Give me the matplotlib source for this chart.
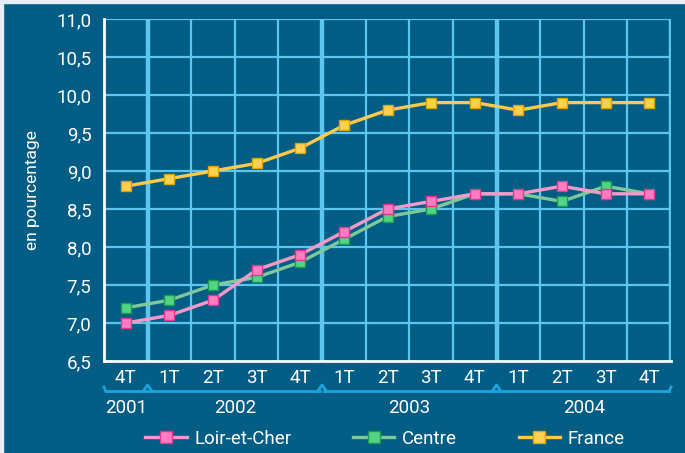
import numpy as np
import matplotlib.pyplot as plt
from matplotlib.lines import Line2D

plt.rcParams["font.family"] = ["Roboto", "DejaVu Sans"]

quarters = ["4T", "1T", "2T", "3T", "4T", "1T", "2T", "3T", "4T", "1T", "2T", "3T", "4T"]
years = ["2001", "2002", "2003", "2004"]
year_spans = [(0, 0), (1, 4), (5, 8), (9, 12)]

loir = [7.0, 7.1, 7.3, 7.7, 7.9, 8.2, 8.5, 8.6, 8.7, 8.7, 8.8, 8.7, 8.7]
centre = [7.2, 7.3, 7.5, 7.6, 7.8, 8.1, 8.4, 8.5, 8.7, 8.7, 8.6, 8.8, 8.7]
france = [8.8, 8.9, 9.0, 9.1, 9.3, 9.6, 9.8, 9.9, 9.9, 9.8, 9.9, 9.9, 9.9]

bg = "#035d85"
grid_c = "#5cc6ee"
brace_c = "#1aa3dc"

fig = plt.figure(figsize=(6.85, 4.53), dpi=100, facecolor=bg)
# light border strips top and left
fig.patches.append(plt.Rectangle((0, 0.994), 1, 0.006, transform=fig.transFigure,
                                 color="#e6eef2", zorder=0))
fig.patches.append(plt.Rectangle((0, 0), 0.005, 1, transform=fig.transFigure,
                                 color="#e6eef2", zorder=0))

ax = fig.add_axes([0.1518, 0.2031, 0.8278, 0.7550])
ax.set_facecolor(bg)
x = np.arange(len(quarters))
ax.set_xlim(-0.5, len(quarters) - 0.5)
ax.set_ylim(6.5, 11.0)

# grid
for y in np.arange(7.0, 11.01, 0.5):
    ax.axhline(y, color=grid_c, lw=1.6, zorder=1)
for i in range(len(quarters)):
    b = i + 0.5
    thick = b in (0.5, 4.5, 8.5, 12.5)
    ax.axvline(b, color=grid_c, lw=3.2 if thick else 1.6, zorder=1)

for s in ["top", "right"]:
    ax.spines[s].set_visible(False)
ax.spines["left"].set_color("white")
ax.spines["bottom"].set_color("white")
ax.spines["left"].set_linewidth(2)
ax.spines["bottom"].set_linewidth(2)

series = [
    (loir, "Loir-et-Cher", "#f59ac8", "#ff7dc0", "#e0388e"),
    (centre, "Centre", "#7ec89a", "#52d486", "#1c9a52"),
    (france, "France", "#ffc94a", "#ffd153", "#e2a200"),
]
handles = []
for vals, name, lc, mf, me in [series[2], series[1], series[0]]:
    ax.plot(x, vals, color=lc, lw=2.4, marker="s", ms=7.5, mfc=mf, mec=me,
            mew=1.0, zorder=3)
for vals, name, lc, mf, me in series:
    handles.append(Line2D([0], [0], color=lc, lw=2.4, marker="s", ms=9,
                          mfc=mf, mec=me, mew=1.0, label=name))

ax.set_yticks(np.arange(6.5, 11.01, 0.5))
ax.set_yticklabels([f"{v:.1f}".replace(".", ",") for v in np.arange(6.5, 11.01, 0.5)])
ax.set_xticks(x)
ax.set_xticklabels(quarters)
ax.tick_params(axis="both", length=0, colors="white", labelsize=13.5)
ax.tick_params(axis="y", pad=9)
ax.tick_params(axis="x", pad=6)
ax.set_ylabel("en pourcentage", color="white", fontsize=12.5, labelpad=12)

# year braces
trans = ax.get_xaxis_transform()
by = -0.088
for (a, b), yr in zip(year_spans, years):
    x0, x1 = a - 0.5, b + 0.5
    ax.plot([x0 + 0.04, x1 - 0.04], [by, by], color=brace_c, lw=2,
            transform=trans, clip_on=False)
    ax.text((x0 + x1) / 2, by - 0.022, yr, transform=trans, ha="center",
            va="top", color="white", fontsize=13.5)
for bnd in [0.5, 4.5, 8.5]:
    ax.plot([bnd - 0.1, bnd, bnd + 0.1], [by, by + 0.018, by], color=brace_c,
            lw=2, transform=trans, clip_on=False)
ax.plot([-0.5, -0.46], [by + 0.012, by], color=brace_c, lw=2, transform=trans, clip_on=False)
ax.plot([12.46, 12.5], [by, by + 0.012], color=brace_c, lw=2, transform=trans, clip_on=False)

leg = fig.legend(handles=handles, loc="center", bbox_to_anchor=(0.562, 0.032),
                 ncol=3, frameon=False, fontsize=13.5, labelcolor="white",
                 handlelength=2.2, columnspacing=3.3, handletextpad=0.4)

fig.savefig("out.png", dpi=100, facecolor=bg)
